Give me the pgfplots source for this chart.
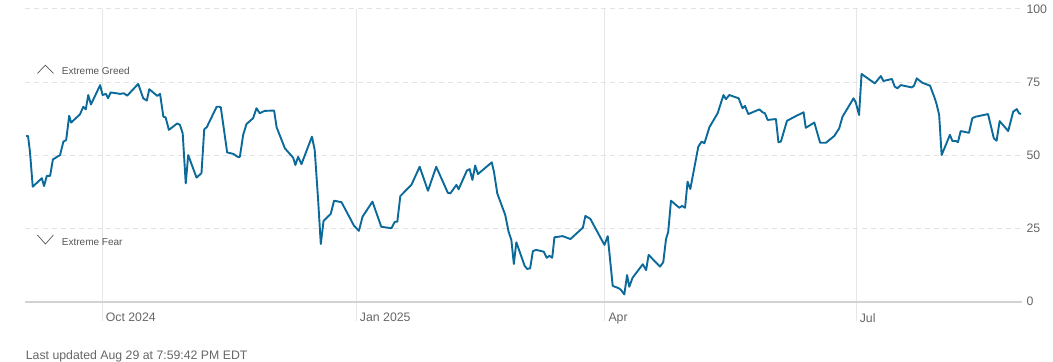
\documentclass[border=0pt]{standalone}
\usepackage{fontspec}
\setmainfont{Liberation Sans}
\usepackage{pgfplots}
\pgfplotsset{compat=1.18}
\usepackage{pgfplotstable}
\definecolor{linec}{HTML}{0B6A9A}
\definecolor{hgridc}{HTML}{E2E2E2}
\definecolor{vgridc}{HTML}{E6E6E6}
\definecolor{axisc}{HTML}{D2D2D2}
\definecolor{txtc}{HTML}{666666}
\definecolor{annc}{HTML}{555555}

\pgfplotstableread{
d v
-119.6 56.6
-118.9 56.6
-118.2 51.2
-117.2 39.3
-113.9 42.2
-113.1 39.5
-112.1 43.0
-110.9 43.0
-109.9 48.6
-107.3 50.1
-106.1 54.7
-105.1 55.2
-104.0 63.5
-103.3 61.2
-100.1 64.0
-98.9 66.6
-98.0 65.7
-97.1 70.6
-96.1 67.4
-92.8 74.0
-91.9 70.6
-90.7 71.0
-89.9 69.5
-89.0 71.5
-86.8 71.2
-85.6 71.0
-84.2 71.2
-83.0 70.4
-79.0 74.4
-77.2 69.5
-75.9 68.7
-75.0 72.6
-72.1 70.3
-71.1 71.0
-69.9 63.2
-69.1 63.0
-67.9 58.7
-64.9 60.9
-63.9 60.4
-62.9 57.5
-61.8 40.4
-60.9 50.1
-57.9 42.4
-56.1 43.9
-55.1 58.9
-54.2 59.6
-50.6 66.6
-49.7 66.6
-49.1 66.4
-46.8 51.0
-44.6 50.5
-43.0 49.5
-42.2 49.5
-41.0 57.0
-39.8 60.7
-37.4 62.7
-36.2 66.1
-35.0 64.4
-33.2 65.2
-29.8 65.3
-28.9 59.6
-25.9 52.4
-22.9 49.2
-22.1 46.7
-21.1 49.5
-19.9 47.0
-16.1 56.4
-15.1 51.8
-13.9 35.3
-12.9 19.7
-11.9 27.6
-9.3 30.0
-8.1 34.5
-5.4 34.0
-0.9 26.0
0.9 24.2
2.2 29.0
5.8 34.2
9.0 25.6
12.7 25.1
13.9 27.3
14.8 27.3
15.9 36.1
19.9 39.9
22.9 46.1
25.9 37.9
28.9 46.1
33.1 37.2
34.0 37.0
36.2 39.9
37.0 38.4
40.0 44.8
41.0 45.3
42.0 41.6
43.0 46.5
44.0 43.6
49.0 47.6
49.8 44.4
51.0 37.0
53.9 29.6
55.1 23.9
56.1 21.1
57.0 12.9
57.9 20.3
60.9 12.3
61.8 11.2
62.9 11.4
63.9 17.3
65.1 17.7
67.8 17.1
68.9 15.0
69.9 15.7
70.9 15.0
71.7 22.0
74.7 22.4
77.5 21.4
82.0 25.3
82.9 29.3
84.7 28.3
89.8 19.4
91.0 22.4
92.8 5.4
95.0 4.6
95.8 4.0
97.0 2.5
98.0 9.1
98.8 5.1
100.0 8.2
103.7 12.8
104.9 10.8
105.8 16.0
109.9 12.0
111.1 13.5
112.1 21.4
112.9 23.9
113.9 34.5
116.9 32.1
117.9 32.7
119.0 32.1
119.9 41.0
120.9 38.5
123.8 53.0
125.0 54.7
126.0 54.1
127.8 59.6
130.8 64.4
132.9 70.6
133.8 69.2
135.0 70.6
138.4 69.5
139.8 66.1
140.7 66.9
141.9 64.1
145.9 65.7
147.1 64.7
147.9 64.4
148.9 62.1
151.9 62.4
152.8 54.5
153.7 54.7
155.9 61.8
159.1 63.4
161.9 64.7
162.7 59.4
165.8 61.2
167.9 54.3
170.0 54.3
173.0 56.6
174.8 59.2
176.0 63.2
180.0 69.5
180.8 68.1
182.0 63.8
182.9 77.8
187.7 74.6
189.9 77.1
190.8 75.4
193.9 76.1
194.9 73.5
195.9 72.9
197.1 74.0
201.1 73.2
201.9 73.8
202.9 76.3
204.9 74.8
207.7 73.8
209.4 69.5
210.1 67.4
211.0 63.8
211.9 50.1
214.9 57.0
215.8 54.9
217.0 54.9
217.8 54.5
218.8 58.3
221.8 57.7
223.0 62.7
224.2 63.2
228.7 64.1
230.8 55.8
231.8 55.0
232.9 61.7
236.0 58.3
237.8 64.9
239.1 65.8
239.9 64.4
240.6 64.1
}\fgdata

\begin{document}
\begin{tikzpicture}
\begin{axis}[
  name=ax, at={(0,0)}, anchor=south west,
  scale only axis, width=997pt, height=292.7pt,
  xmin=-120, xmax=241, ymin=0, ymax=100,
  axis line style={draw=none},
  major tick length=0pt,
  xtick={-92,0,90,181},
  xticklabels={Oct 2024,Jan 2025,Apr,Jul},
  ytick={0,25,50,75,100},
  yticklabel pos=right,
  xticklabel style={anchor=north west, yshift=-8pt},
  yticklabel style={anchor=west, xshift=1pt},
  tick label style={font=\fontsize{12.3}{14}\selectfont, text=txtc},
  /pgf/number format/assume math mode=true,
  clip=false,
]
% horizontal dashed grid
\foreach \yy in {25,50,75,100}{
  \edef\tmp{\noexpand\draw[hgridc, line width=1pt, dash pattern=on 5pt off 4pt] (axis cs:-120,\yy) -- (axis cs:241,\yy);}\tmp
}
% vertical grid lines
\foreach \xx in {-92,0,90,181}{
  \edef\tmp{\noexpand\draw[vgridc, line width=1pt] (axis cs:\xx,100) -- ([yshift=-19.3pt]axis cs:\xx,0);}\tmp
}
% baseline
\draw[axisc, line width=2pt] (axis cs:-120,0) -- (axis cs:241,0);
% annotations
\draw[annc, line width=0.7pt] (axis cs:-115.5,78.0) -- (axis cs:-112.6,80.8) -- (axis cs:-109.7,78.0);
\node[anchor=west, inner sep=0pt, text=annc, font=\fontsize{10}{12}\selectfont] at (axis cs:-106.7,78.9) {Extreme Greed};
\draw[annc, line width=0.7pt] (axis cs:-115.5,22.8) -- (axis cs:-112.6,19.7) -- (axis cs:-109.7,22.8);
\node[anchor=west, inner sep=0pt, text=annc, font=\fontsize{10}{12}\selectfont] at (axis cs:-106.7,20.5) {Extreme Fear};
% data
\addplot[linec, line width=1.9pt, line join=round, no marks] table[x=d, y=v] {\fgdata};
\end{axis}
\node[anchor=base west, inner sep=0pt, text=txtc, font=\fontsize{12.3}{14}\selectfont] at ([xshift=0.7pt,yshift=-57.3pt]ax.south west) {Last updated Aug 29 at 7:59:42 PM EDT};
\pgfresetboundingbox
\path[use as bounding box] ([xshift=-25pt,yshift=-59.3pt]ax.south west) rectangle ([xshift=31pt,yshift=9pt]ax.north east);
\end{tikzpicture}
\end{document}
